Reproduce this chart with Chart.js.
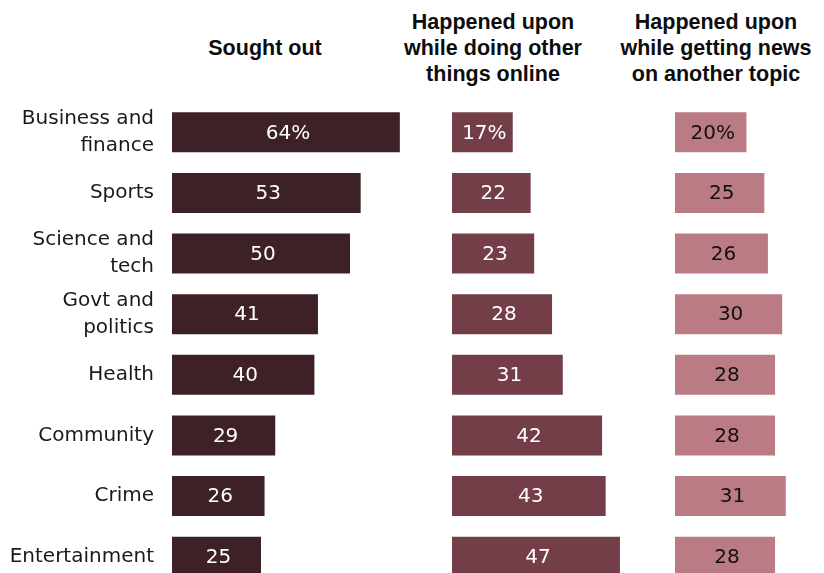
<!DOCTYPE html>
<html>
<head>
<meta charset="utf-8">
<script src="https://cdn.jsdelivr.net/npm/chart.js@4.4.1/dist/chart.umd.min.js"></script>
<style>
  html, body { margin: 0; padding: 0; width: 824px; height: 573px; overflow: hidden; background: #fff; }
  .panel { position: absolute; top: 0; }
  .head {
    position: absolute;
    font-family: "Liberation Sans", Arial, sans-serif;
    font-weight: bold;
    font-size: 21.5px;
    line-height: 26px;
    text-align: center;
    white-space: nowrap;
    color: #0d0d0d;
  }
</style>
</head>
<body>
<div class="head" style="left:165px; width:200px; top:35px;">Sought out</div>
<div class="head" style="left:393px; width:200px; top:9px;">Happened upon<br>while doing other<br>things online</div>
<div class="head" style="left:616px; width:200px; top:9px;">Happened upon<br>while getting news<br>on another topic</div>

<canvas id="sought" class="panel" style="left:0" width="439" height="590"></canvas>
<canvas id="otherThings" class="panel" style="left:452px" width="268" height="590"></canvas>
<canvas id="otherTopic" class="panel" style="left:675px" width="268" height="590"></canvas>

<script>
const topics = [
  ["Business and", "finance"],
  "Sports",
  ["Science and", "tech"],
  ["Govt and", "politics"],
  "Health",
  "Community",
  "Crime",
  "Entertainment"
];
const soughtOut = [64, 53, 50, 41, 40, 29, 26, 25];
const doingOtherThings = [17, 22, 23, 28, 31, 42, 43, 47];
const otherNewsTopic = [20, 25, 26, 30, 28, 28, 31, 28];

const bodyFont = '"DejaVu Sans", sans-serif';

// writes each bar's value in the middle of the bar, first row gets a % sign
const valueLabels = {
  id: "valueLabels",
  afterDatasetsDraw(chart, args, opts) {
    const ctx = chart.ctx;
    const meta = chart.getDatasetMeta(0);
    const values = chart.data.datasets[0].data;
    ctx.save();
    ctx.font = "20px " + bodyFont;
    ctx.fillStyle = opts.color;
    ctx.textAlign = "center";
    ctx.textBaseline = "middle";
    meta.data.forEach((bar, i) => {
      const text = i === 0 ? values[i] + "%" : String(values[i]);
      ctx.fillText(text, (bar.x + bar.base) / 2 + 2, bar.y + 1);
    });
    ctx.restore();
  }
};

function makePanel(id, values, barColor, textColor, showTopics) {
  return new Chart(document.getElementById(id), {
    type: "bar",
    data: {
      labels: topics,
      datasets: [{
        data: values,
        backgroundColor: barColor,
        barPercentage: 0.66,
        categoryPercentage: 1
      }]
    },
    options: {
      indexAxis: "y",
      responsive: false,
      animation: false,
      layout: { padding: { top: 102, bottom: 3, left: 0, right: 0 } },
      plugins: {
        legend: { display: false },
        tooltip: { enabled: false },
        valueLabels: { color: textColor }
      },
      scales: {
        x: { display: false, min: 0, max: 75 },
        y: {
          display: showTopics,
          grid: { display: false },
          border: { display: false },
          ticks: {
            color: "#1a1a1a",
            padding: 10,
            font: { family: bodyFont, size: 20, lineHeight: 1.33 }
          },
          afterFit(scale) {
            // fixed gutter for the topic names, and no extra room for label overhang
            if (showTopics) scale.width = 172;
            scale.paddingTop = 0;
            scale.paddingBottom = 0;
          }
        }
      }
    },
    plugins: [valueLabels]
  });
}

makePanel("sought", soughtOut, "#3e2126", "#ffffff", true);
makePanel("otherThings", doingOtherThings, "#733e48", "#ffffff", false);
makePanel("otherTopic", otherNewsTopic, "#bb7b85", "#111111", false);
</script>
</body>
</html>
